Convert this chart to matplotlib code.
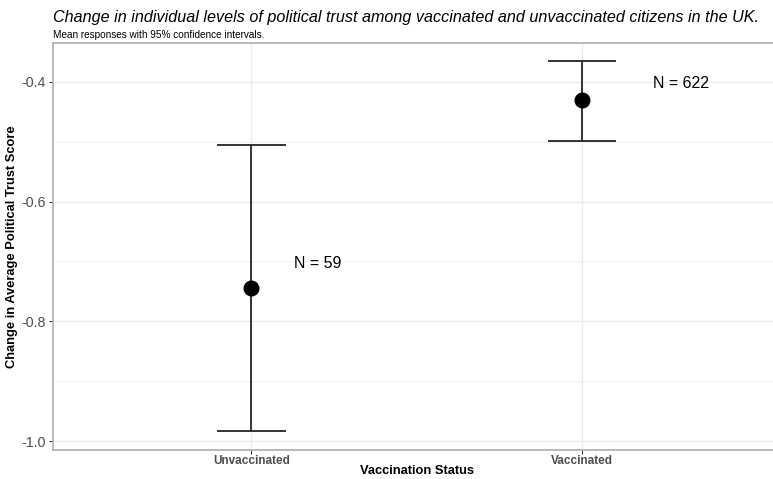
import matplotlib
matplotlib.use("Agg")
import matplotlib.pyplot as plt
import numpy as np

categories = ["Unvaccinated", "Vaccinated"]
means = [-0.744, -0.430]
lower = [-0.984, -0.499]
upper = [-0.505, -0.365]
n_labels = ["N = 59", "N = 622"]
label_x = [1.2, 2.3]
label_y = [-0.703, -0.402]
yticks = [-1.0, -0.8, -0.6, -0.4]

plt.rcParams['font.family'] = ['Liberation Sans', 'DejaVu Sans']

fig = plt.figure(figsize=(7.73, 4.79), dpi=100)
ax = fig.add_axes([53/773, 1 - 450/479, 1 - 53/773 + 0.01, (450 - 43)/479])

x = np.arange(1, len(categories) + 1)
for xi, m, lo, hi in zip(x, means, lower, upper):
    ax.plot([xi, xi], [lo, hi], color="#333333", lw=1.4, zorder=3)
    ax.plot([xi - 0.1, xi + 0.1], [lo, lo], color="#333333", lw=1.4, zorder=3)
    ax.plot([xi - 0.1, xi + 0.1], [hi, hi], color="#333333", lw=1.4, zorder=3)
ax.scatter(x, means, s=110, color="black", zorder=4)

for lx, t, ly in zip(label_x, n_labels, label_y):
    ax.text(lx, ly, t, fontsize=11.5, ha="center", va="center", color="black")

ax.set_xlim(0.4, 2.6)
ax.set_ylim(-1.015, -0.335)
ax.set_xticks(x)
ax.set_xticklabels(categories, fontsize=8.5, fontweight="bold", color="#4D4D4D")
ax.set_yticks(yticks)
ax.set_yticklabels([f"{v:.1f}" for v in yticks], fontsize=10.3, color="#4D4D4D")
ax.set_yticks([-0.9, -0.7, -0.5], minor=True)
ax.grid(True, which="major", color="#EBEBEB", lw=1.0)
ax.grid(True, which="minor", axis="y", color="#F2F2F2", lw=0.7)
ax.set_axisbelow(True)
ax.tick_params(axis="both", which="major", length=3, color="#333333", width=0.8, pad=2)
ax.tick_params(axis="x", which="major", pad=0.5)
ax.tick_params(axis="y", which="minor", length=0)
for s in ["top", "bottom", "left"]:
    ax.spines[s].set_color("#B3B3B3")
    ax.spines[s].set_linewidth(1.3)
ax.spines["right"].set_visible(False)

ax.set_xlabel("Vaccination Status", fontsize=9.3, fontweight="bold")
ax.set_ylabel("Change in Average Political Trust Score", fontsize=9.3, fontweight="bold")
ax.xaxis.set_label_coords(0.5, -(471 - 450) / 407)
ax.xaxis.label.set_va("center")
ax.yaxis.set_label_coords(-(53 - 12.5) / 727.7, 0.5)
ax.yaxis.label.set_va("center")

fig.text(53/773, 1 - 22/479, "Change in individual levels of political trust among vaccinated and unvaccinated citizens in the UK.",
         fontsize=11.6, style="italic", ha="left", va="baseline")
fig.text(53/773, 1 - 38/479, "Mean responses with 95% confidence intervals.", fontsize=7.2, ha="left", va="baseline")

fig.savefig("out.png", dpi=100)
